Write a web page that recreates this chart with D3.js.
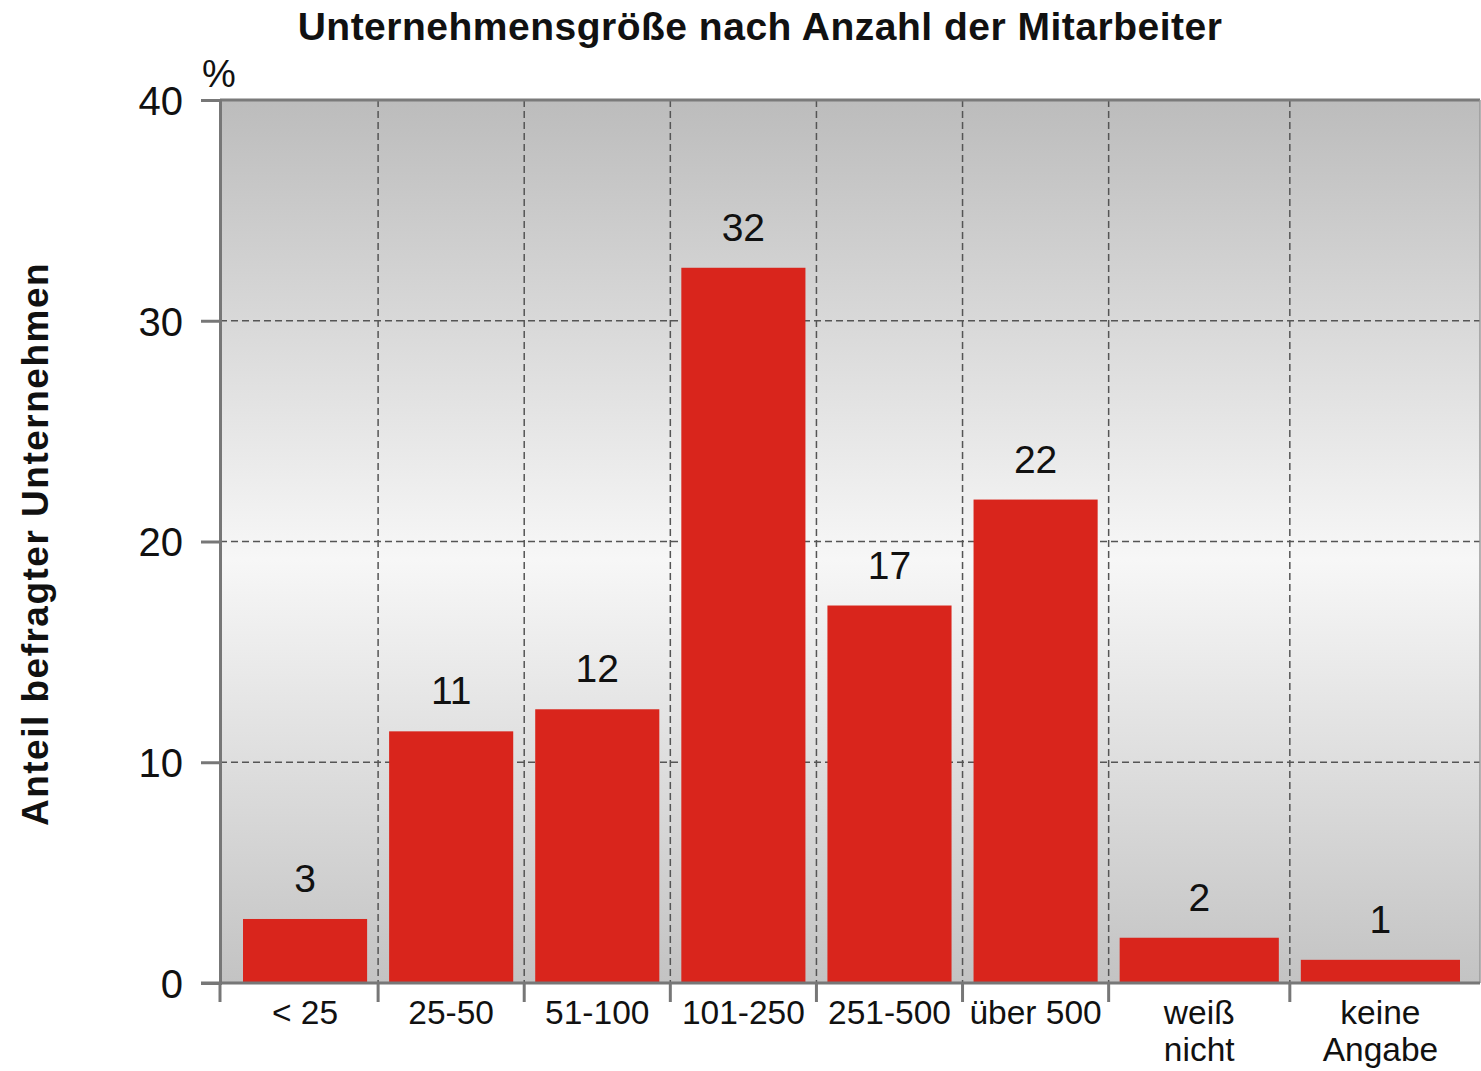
<!DOCTYPE html>
<html><head><meta charset="utf-8">
<script src="https://cdn.jsdelivr.net/npm/d3@7"></script>
<style>body{margin:0;background:#fff}svg{display:block}text{font-family:"Liberation Sans",Arial,sans-serif;fill:#111}</style>
</head><body>
<svg id="c" width="1481" height="1071"></svg>
<script>
const categories = [["< 25"],["25-50"],["51-100"],["101-250"],["251-500"],["über 500"],["weiß","nicht"],["keine","Angabe"]];
const values = [2.9, 11.4, 12.4, 32.4, 17.1, 21.9, 2.05, 1.05];
const valueLabels = ["3","11","12","32","17","22","2","1"];
const yTicks = [0,10,20,30,40];
const title = "Unternehmensgröße nach Anzahl der Mitarbeiter";
const yTitle = "Anteil befragter Unternehmen";
const unit = "%";

// layout
const slotWeights = [1,1,1,1,1,1,1.24,1.24];
const axisX = 220, slotStart = 232, slotEnd = 1471, plotRight = 1480;
const plotTop = 100, plotBottom = 983;
const svg = d3.select("#c");

const cum = [0]; slotWeights.forEach(w => cum.push(cum[cum.length-1]+w));
const x = d3.scaleLinear().domain([0, cum[cum.length-1]]).range([slotStart, slotEnd]);
const y = d3.scaleLinear().domain([0,40]).range([plotBottom, plotTop]);
const pad = 11;

const defs = svg.append("defs");
const g = defs.append("linearGradient").attr("id","bg").attr("gradientUnits","userSpaceOnUse")
  .attr("x1",0).attr("x2",0).attr("y1",plotTop).attr("y2",plotBottom);
g.append("stop").attr("offset","0%").attr("stop-color","#bcbcbc");
g.append("stop").attr("offset","52%").attr("stop-color","#f7f7f7");
g.append("stop").attr("offset","100%").attr("stop-color","#c3c3c3");

svg.append("rect").attr("x",axisX).attr("y",plotTop).attr("width",plotRight-axisX).attr("height",plotBottom-plotTop).attr("fill","url(#bg)");

// horizontal grid
svg.append("g").selectAll("line").data(yTicks.filter(t=>t>0 && t<40)).join("line")
  .attr("x1",axisX).attr("x2",plotRight).attr("y1",d=>y(d)).attr("y2",d=>y(d))
  .attr("stroke","#555").attr("stroke-width",1.5).attr("stroke-dasharray","7,4");
// vertical grid
const innerBounds = cum.slice(1, cum.length-1);
svg.append("g").selectAll("line").data(innerBounds).join("line")
  .attr("x1",d=>x(d)).attr("x2",d=>x(d)).attr("y1",plotTop).attr("y2",plotBottom)
  .attr("stroke","#555").attr("stroke-width",1.5).attr("stroke-dasharray","7,4");

// bars
svg.append("g").selectAll("rect").data(values).join("rect")
  .attr("x",(d,i)=>x(cum[i])+pad).attr("width",(d,i)=>x(cum[i+1])-x(cum[i])-2*pad)
  .attr("y",d=>y(d)).attr("height",d=>y(0)-y(d)).attr("fill","#d9251c");

// value labels
svg.append("g").selectAll("text").data(values).join("text")
  .attr("x",(d,i)=>(x(cum[i])+x(cum[i+1]))/2).attr("y",d=>y(d)-27)
  .attr("text-anchor","middle").attr("font-size",39).text((d,i)=>valueLabels[i]);

// frame
svg.append("line").attr("x1",axisX).attr("x2",plotRight).attr("y1",plotTop).attr("y2",plotTop).attr("stroke","#7a7a7a").attr("stroke-width",3);
svg.append("line").attr("x1",plotRight).attr("x2",plotRight).attr("y1",plotTop).attr("y2",plotBottom).attr("stroke","#9a9a9a").attr("stroke-width",1.5);

// y axis
const yAxis = d3.axisLeft(y).tickValues(yTicks).tickSize(19).tickPadding(18);
const ya = svg.append("g").attr("transform",`translate(${axisX},0)`).call(yAxis);
ya.select(".domain").attr("stroke","#777").attr("stroke-width",3);
ya.selectAll(".tick line").attr("stroke","#777").attr("stroke-width",3);
ya.selectAll(".tick text").attr("font-size",40).attr("fill","#111").attr("font-family","Liberation Sans, Arial, sans-serif").attr("dy","0.36em");

// x axis baseline and ticks
svg.append("line").attr("x1",axisX-19).attr("x2",plotRight).attr("y1",plotBottom).attr("y2",plotBottom).attr("stroke","#777").attr("stroke-width",3);
const tickXs = [axisX].concat(innerBounds.map(d=>x(d)));
svg.append("g").selectAll("line").data(tickXs).join("line")
  .attr("x1",d=>d).attr("x2",d=>d).attr("y1",plotBottom).attr("y2",plotBottom+19)
  .attr("stroke","#777").attr("stroke-width",3);

// x labels
const xl = svg.append("g").selectAll("text").data(categories).join("text")
  .attr("x",(d,i)=>(x(cum[i])+x(cum[i+1]))/2).attr("y",1024)
  .attr("text-anchor","middle").attr("font-size",33.5);
xl.selectAll("tspan").data(d=>d).join("tspan")
  .attr("x",function(){return this.parentNode.getAttribute("x");})
  .attr("dy",(d,i)=>i===0?0:37).text(d=>d);

// titles
svg.append("text").attr("x",760).attr("y",40).attr("text-anchor","middle").attr("font-size",39).attr("font-weight","bold").attr("letter-spacing","0.5px").text(title);
svg.append("text").attr("x",219).attr("y",87).attr("text-anchor","middle").attr("font-size",38).text(unit);
svg.append("text").attr("transform","translate(48,544) rotate(-90)").attr("text-anchor","middle").attr("font-size",37).attr("font-weight","bold").attr("letter-spacing","1.5px").text(yTitle);
</script>
</body></html>
